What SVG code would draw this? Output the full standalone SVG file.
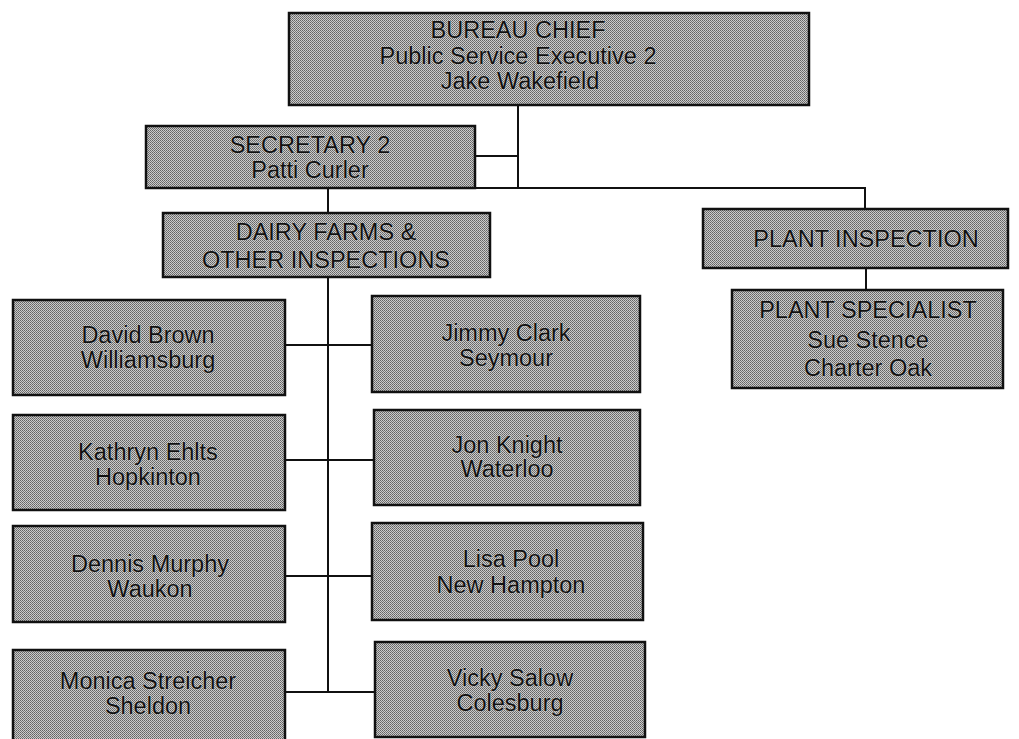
<svg xmlns="http://www.w3.org/2000/svg" width="1019" height="739" viewBox="0 0 1019 739">
<defs>
<pattern id="dither" width="2" height="2" patternUnits="userSpaceOnUse">
<rect width="2" height="2" fill="#cbcbcb"/>
<rect x="0" y="0" width="1" height="1" fill="#636363"/>
<rect x="1" y="1" width="1" height="1" fill="#777777"/>
</pattern>
</defs>
<style>
.box{fill:url(#dither);stroke:#111;stroke-width:2.5}
.t{font-family:"Liberation Sans",Arial,sans-serif;font-size:23.5px;fill:#111;text-anchor:middle;stroke:#d0d0d0;stroke-width:0.7;paint-order:stroke}
.c{stroke:#111;stroke-width:2;fill:none}
</style>
<rect width="1019" height="739" fill="#ffffff"/>
<g id="connectors">
<path class="c" d="M518 105 V188"/>
<path class="c" d="M475 188 H865 V209"/>
<path class="c" d="M475 156 H518"/>
<path class="c" d="M328 188 V213"/>
<path class="c" d="M328 277 V692"/>
<path class="c" d="M866 268 V290"/>
<path class="c" d="M285 345 H372"/>
<path class="c" d="M285 460 H374"/>
<path class="c" d="M285 576 H372"/>
<path class="c" d="M285 692 H375"/>
</g>
<g id="bureau-chief">
<rect class="box" x="289" y="13" width="520" height="92"/>
<text class="t" x="518" y="38">BUREAU CHIEF</text>
<text class="t" x="518" y="64">Public Service Executive 2</text>
<text class="t" x="520" y="89">Jake Wakefield</text>
</g>
<g id="secretary">
<rect class="box" x="146" y="126" width="329" height="62"/>
<text class="t" x="310" y="153">SECRETARY 2</text>
<text class="t" x="310" y="178">Patti Curler</text>
</g>
<g id="dairy">
<rect class="box" x="163" y="213" width="327" height="64"/>
<text class="t" x="326" y="240">DAIRY FARMS &amp;</text>
<text class="t" x="326" y="268">OTHER INSPECTIONS</text>
</g>
<g id="plant-inspection">
<rect class="box" x="703" y="209" width="305" height="59"/>
<text class="t" x="866" y="247">PLANT INSPECTION</text>
</g>
<g id="plant-specialist">
<rect class="box" x="732" y="290" width="271" height="98"/>
<text class="t" x="868" y="318">PLANT SPECIALIST</text>
<text class="t" x="868" y="348">Sue Stence</text>
<text class="t" x="868" y="376">Charter Oak</text>
</g>
<g id="david-brown">
<rect class="box" x="13" y="300" width="272" height="95"/>
<text class="t" x="148" y="343">David Brown</text>
<text class="t" x="148" y="368">Williamsburg</text>
</g>
<g id="jimmy-clark">
<rect class="box" x="372" y="296" width="268" height="96"/>
<text class="t" x="506" y="341">Jimmy Clark</text>
<text class="t" x="506" y="366">Seymour</text>
</g>
<g id="kathryn-ehlts">
<rect class="box" x="13" y="415" width="272" height="95"/>
<text class="t" x="148" y="460">Kathryn Ehlts</text>
<text class="t" x="148" y="485">Hopkinton</text>
</g>
<g id="jon-knight">
<rect class="box" x="374" y="410" width="266" height="95"/>
<text class="t" x="507" y="453">Jon Knight</text>
<text class="t" x="507" y="477">Waterloo</text>
</g>
<g id="dennis-murphy">
<rect class="box" x="13" y="526" width="272" height="96"/>
<text class="t" x="150" y="572">Dennis Murphy</text>
<text class="t" x="150" y="597">Waukon</text>
</g>
<g id="lisa-pool">
<rect class="box" x="372" y="523" width="271" height="97"/>
<text class="t" x="511" y="567">Lisa Pool</text>
<text class="t" x="511" y="593">New Hampton</text>
</g>
<g id="monica-streicher">
<rect class="box" x="13" y="650" width="272" height="95"/>
<text class="t" x="148" y="689">Monica Streicher</text>
<text class="t" x="148" y="714">Sheldon</text>
</g>
<g id="vicky-salow">
<rect class="box" x="375" y="642" width="270" height="95"/>
<text class="t" x="510" y="686">Vicky Salow</text>
<text class="t" x="510" y="711">Colesburg</text>
</g>
</svg>
